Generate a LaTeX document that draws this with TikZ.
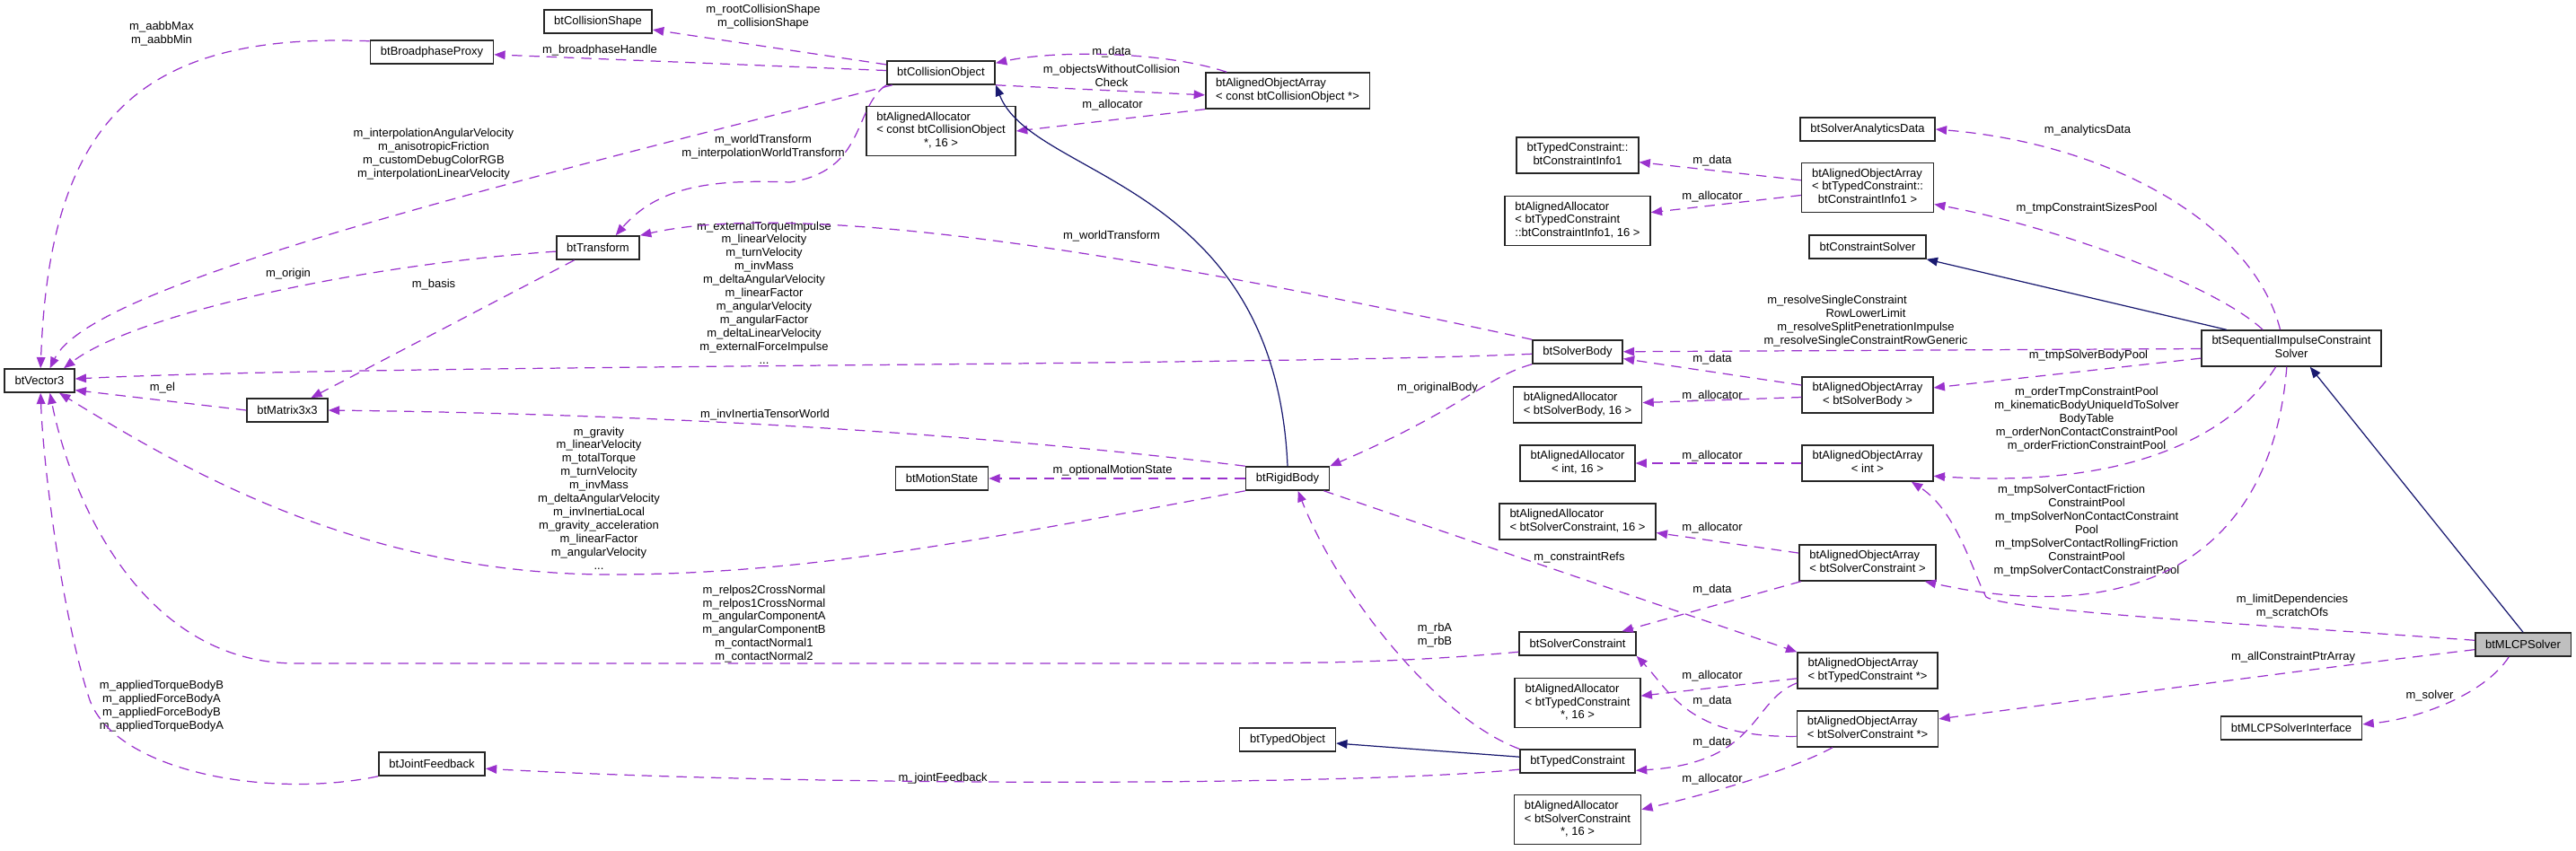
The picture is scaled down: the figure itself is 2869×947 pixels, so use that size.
\documentclass[tikz,border=0pt]{standalone}
\usepackage{fontspec}
\setmainfont{Liberation Sans}
\usetikzlibrary{arrows.meta}
\definecolor{usecol}{HTML}{9A32CD}
\definecolor{inhcol}{HTML}{191970}
\definecolor{selcol}{HTML}{BFBFBF}
\newcommand{\classlines}[2]{\begin{tabular}{@{}l@{}}#1\\\multicolumn{1}{@{}c@{}}{#2}\end{tabular}}
\begin{document}
\begin{tikzpicture}[
  x=0.02cm, y=-0.02cm,
  font=\fontsize{7.4}{8.5}\selectfont,
  box/.style={draw=black!85, line width=0.9pt, fill=white, inner xsep=6.5pt, inner ysep=2.85pt, minimum height=0.52cm},
  sel/.style={box, fill=selcol},
  lbl/.style={inner sep=0pt, align=center},
  arr/.style={-{Triangle[length=7pt,width=5.5pt]}, usecol, dash pattern=on 6.5pt off 4.5pt, line width=0.7pt},
  inh/.style={-{Triangle[length=7pt,width=5.5pt]}, inhcol, line width=0.7pt}
]
\useasboundingbox (0,0) rectangle (2869,947);
\node[box] (vec3) at (44,424) {btVector3};
\node[box] (bproxy) at (481,58) {btBroadphaseProxy};
\node[box] (cshape) at (666,24) {btCollisionShape};
\node[box] (cobj) at (1048,81) {btCollisionObject};
\node[box] (arrcobj) at (1434,101) {\classlines{btAlignedObjectArray}{< const btCollisionObject *>}};
\node[box] (alloccobj) at (1048,146) {\classlines{btAlignedAllocator\\< const btCollisionObject}{*, 16 >}};
\node[box] (transform) at (666,276) {btTransform};
\node[box] (mat3) at (320,457) {btMatrix3x3};
\node[box] (jointfb) at (481,851) {btJointFeedback};
\node[box] (mstate) at (1049,533) {btMotionState};
\node[box] (rbody) at (1434,533) {btRigidBody};
\node[box] (tobject) at (1434,824) {btTypedObject};
\node[box] (info1) at (1757,173) {\classlines{btTypedConstraint::}{btConstraintInfo1}};
\node[box] (allocinfo) at (1757,246) {\classlines{btAlignedAllocator\\< btTypedConstraint}{::btConstraintInfo1, 16 >}};
\node[box] (arrinfo) at (2080,209) {\classlines{btAlignedObjectArray\\< btTypedConstraint::}{btConstraintInfo1 >}};
\node[box] (analytics) at (2080,144) {btSolverAnalyticsData};
\node[box] (csolver) at (2080,275) {btConstraintSolver};
\node[box] (sbody) at (1757,392) {btSolverBody};
\node[box] (allocsbody) at (1757,451) {\classlines{btAlignedAllocator}{< btSolverBody, 16 >}};
\node[box] (arrsbody) at (2080,440) {\classlines{btAlignedObjectArray}{< btSolverBody >}};
\node[box] (allocint) at (1757,516) {\classlines{btAlignedAllocator}{< int, 16 >}};
\node[box] (arrint) at (2080,516) {\classlines{btAlignedObjectArray}{< int >}};
\node[box] (allocscons) at (1757,581) {\classlines{btAlignedAllocator}{< btSolverConstraint, 16 >}};
\node[box] (arrscons) at (2080,627) {\classlines{btAlignedObjectArray}{< btSolverConstraint >}};
\node[box] (scons) at (1757,717) {btSolverConstraint};
\node[box] (arrtconsp) at (2080,747) {\classlines{btAlignedObjectArray}{< btTypedConstraint *>}};
\node[box] (alloctconsp) at (1757,783) {\classlines{btAlignedAllocator\\< btTypedConstraint}{*, 16 >}};
\node[box] (arrsconsp) at (2080,812) {\classlines{btAlignedObjectArray}{< btSolverConstraint *>}};
\node[box] (tcons) at (1757,848) {btTypedConstraint};
\node[box] (allocsconsp) at (1757,913) {\classlines{btAlignedAllocator\\< btSolverConstraint}{*, 16 >}};
\node[box] (sicsolver) at (2552,388) {\classlines{btSequentialImpulseConstraint}{Solver}};
\node[sel] (mlcp) at (2810,718) {btMLCPSolver};
\node[box] (mlcpif) at (2552,811) {btMLCPSolverInterface};

\node[lbl] (t-aabb) at (180,38) {m\_aabbMax\\m\_aabbMin};
\node[lbl] (t-bph) at (668,56) {m\_broadphaseHandle};
\node[lbl] (t-shape) at (850,19) {m\_rootCollisionShape\\m\_collisionShape};
\node[lbl] (t-interp) at (483,172) {m\_interpolationAngularVelocity\\m\_anisotropicFriction\\m\_customDebugColorRGB\\m\_interpolationLinearVelocity};
\node[lbl] (t-cwt) at (850,164) {m\_worldTransform\\m\_interpolationWorldTransform};
\node[lbl] (t-cdata) at (1238,58) {m\_data};
\node[lbl] (t-owcc) at (1238,84) {m\_objectsWithoutCollision\\Check};
\node[lbl] (t-calloc) at (1239,117) {m\_allocator};
\node[lbl] (t-origin) at (321,305) {m\_origin};
\node[lbl] (t-basis) at (483,317) {m\_basis};
\node[lbl] (t-el) at (181,432) {m\_el};
\node[lbl] (t-sbvec) at (851,326) {m\_externalTorqueImpulse\\m\_linearVelocity\\m\_turnVelocity\\m\_invMass\\m\_deltaAngularVelocity\\m\_linearFactor\\m\_angularVelocity\\m\_angularFactor\\m\_deltaLinearVelocity\\m\_externalForceImpulse\\...};
\node[lbl] (t-sbwt) at (1238,263) {m\_worldTransform};
\node[lbl] (t-iitw) at (852,462) {m\_invInertiaTensorWorld};
\node[lbl] (t-grav) at (667,555) {m\_gravity\\m\_linearVelocity\\m\_totalTorque\\m\_turnVelocity\\m\_invMass\\m\_deltaAngularVelocity\\m\_invInertiaLocal\\m\_gravity\_acceleration\\m\_linearFactor\\m\_angularVelocity\\...};
\node[lbl] (t-oms) at (1239,524) {m\_optionalMotionState};
\node[lbl] (t-relpos) at (851,695) {m\_relpos2CrossNormal\\m\_relpos1CrossNormal\\m\_angularComponentA\\m\_angularComponentB\\m\_contactNormal1\\m\_contactNormal2};
\node[lbl] (t-jfb) at (1050,867) {m\_jointFeedback};
\node[lbl] (t-applied) at (180,787) {m\_appliedTorqueBodyB\\m\_appliedForceBodyA\\m\_appliedForceBodyB\\m\_appliedTorqueBodyA};
\node[lbl] (t-i1data) at (1907,179) {m\_data};
\node[lbl] (t-i1alloc) at (1907,219) {m\_allocator};
\node[lbl] (t-orig) at (1601,432) {m\_originalBody};
\node[lbl] (t-resolve) at (2078,358) {m\_resolveSingleConstraint\rule{1.28cm}{0pt}\\RowLowerLimit\\m\_resolveSplitPenetrationImpulse\\m\_resolveSingleConstraintRowGeneric};
\node[lbl] (t-sbdata) at (1907,400) {m\_data};
\node[lbl] (t-sballoc) at (1907,441) {m\_allocator};
\node[lbl] (t-intalloc) at (1907,508) {m\_allocator};
\node[lbl] (t-scalloc) at (1907,588) {m\_allocator};
\node[lbl] (t-crefs) at (1759,621) {m\_constraintRefs};
\node[lbl] (t-scdata) at (1907,657) {m\_data};
\node[lbl] (t-rbab) at (1598,708) {m\_rbA\\m\_rbB};
\node[lbl] (t-tcpalloc) at (1907,753) {m\_allocator};
\node[lbl] (t-scpdata) at (1907,781) {m\_data};
\node[lbl] (t-tcpdata) at (1907,827) {m\_data};
\node[lbl] (t-scpalloc) at (1907,868) {m\_allocator};
\node[lbl] (t-analytics) at (2325,145) {m\_analyticsData};
\node[lbl] (t-sizes) at (2324,232) {m\_tmpConstraintSizesPool};
\node[lbl] (t-sbpool) at (2326,396) {m\_tmpSolverBodyPool};
\node[lbl] (t-order) at (2324,467) {m\_orderTmpConstraintPool\\m\_kinematicBodyUniqueIdToSolver\\BodyTable\\m\_orderNonContactConstraintPool\\m\_orderFrictionConstraintPool};
\node[lbl] (t-tmpcons) at (2324,591) {m\_tmpSolverContactFriction\rule{0.68cm}{0pt}\\ConstraintPool\\m\_tmpSolverNonContactConstraint\\Pool\\m\_tmpSolverContactRollingFriction\\ConstraintPool\\m\_tmpSolverContactConstraintPool};
\node[lbl] (t-limit) at (2553,676) {m\_limitDependencies\\m\_scratchOfs};
\node[lbl] (t-allcons) at (2554,732) {m\_allConstraintPtrArray};
\node[lbl] (t-solver) at (2706,775) {m\_solver};

\draw[arr] (bproxy.170) .. controls (150,35) and (55,140) .. (vec3.85);
\draw[arr] (cobj) -- (bproxy);
\draw[arr] (cobj) -- (cshape);
\draw[arr] (cobj) .. controls (500,220) and (100,320) .. (vec3.50);
\draw[arr] (cobj.south west) .. controls (950,120) and (965,190) .. (880,203) .. controls (800,200) and (735,205) .. (transform.35);
\draw[arr] (arrcobj.163) .. controls (1300,58) and (1180,55) .. (cobj.10);
\draw[arr] (cobj.south east) -- (arrcobj.183);
\draw[arr] (arrcobj.south west) -- (alloccobj.east);
\draw[arr] (transform.185) .. controls (400,295) and (150,350) .. (vec3.27);
\draw[arr] (transform) -- (mat3);
\draw[arr] (mat3.west) -- (vec3.-15);
\draw[arr] (sbody) .. controls (1400,408) and (400,406) .. (vec3);
\draw[arr] (sbody.north west) .. controls (1300,290) and (900,220) .. (transform.north east);
\draw[arr] (sbody.south west) .. controls (1655,420) and (1630,455) .. (rbody.north east);
\draw[inh] (rbody.north) .. controls (1420,200) and (1150,200) .. (cobj.south east);
\draw[arr] (rbody.north west) .. controls (1150,490) and (800,462) .. (mat3.east);
\draw[arr] (rbody) -- (mstate);
\draw[arr] (rbody.south west) .. controls (1100,600) and (900,640) .. (680,640) .. controls (400,640) and (200,520) .. (vec3.-32);
\draw[arr] (rbody) -- (arrtconsp.north west);
\draw[arr] (tcons.north west) .. controls (1600,800) and (1490,660) .. (rbody.-50);
\draw[inh] (tcons) -- (tobject);
\draw[arr] (tcons.188) .. controls (1500,876) and (900,876) .. (jointfb.-5);
\draw[arr] (jointfb.south west) .. controls (300,890) and (130,860) .. (100,780) .. controls (70,690) and (48,520) .. (vec3.-85);
\draw[arr] (scons.188) .. controls (1550,739) and (1450,739) .. (1300,739) -- (330,739) .. controls (160,739) and (80,560) .. (vec3.-50);
\draw[arr] (arrinfo) -- (info1);
\draw[arr] (arrinfo) -- (allocinfo);
\draw[inh] (sicsolver.164) -- (csolver.south east);
\draw[arr] (sicsolver.121) .. controls (2510,250) and (2350,160) .. (analytics.east);
\draw[arr] (sicsolver.147) .. controls (2470,320) and (2300,255) .. (arrinfo.-14);
\draw[arr] (sicsolver) -- (sbody);
\draw[arr] (sicsolver) -- (arrsbody);
\draw[arr] (sicsolver.-130) .. controls (2490,480) and (2380,545) .. (arrint.-11);
\draw[arr] (sicsolver.-104) .. controls (2530,620) and (2380,700) .. (arrscons.-18);
\draw[arr] (arrsbody) -- (sbody);
\draw[arr] (arrsbody) -- (allocsbody);
\draw[arr] (arrint) -- (allocint);
\draw[arr] (arrscons) -- (allocscons);
\draw[arr] (arrscons) -- (scons);
\draw[inh] (mlcp.north) -- (sicsolver.-45);
\draw[arr] (mlcp.175) .. controls (2500,695) and (2235,680) .. (2212,665) .. controls (2198,640) and (2180,570) .. (arrint.-23);
\draw[arr] (mlcp.186) .. controls (2550,748) and (2350,776) .. (arrsconsp.8);
\draw[arr] (mlcp.-139) .. controls (2770,770) and (2700,800) .. (mlcpif.3);
\draw[arr] (arrtconsp) -- (alloctconsp);
\draw[arr] (arrtconsp.190) .. controls (1950,780) and (1960,850) .. (tcons.-9);
\draw[arr] (arrsconsp.186) .. controls (1880,822) and (1860,770) .. (scons.south east);
\draw[arr] (arrsconsp.-152) .. controls (1990,860) and (1900,885) .. (allocsconsp.9);
\end{tikzpicture}
\end{document}
